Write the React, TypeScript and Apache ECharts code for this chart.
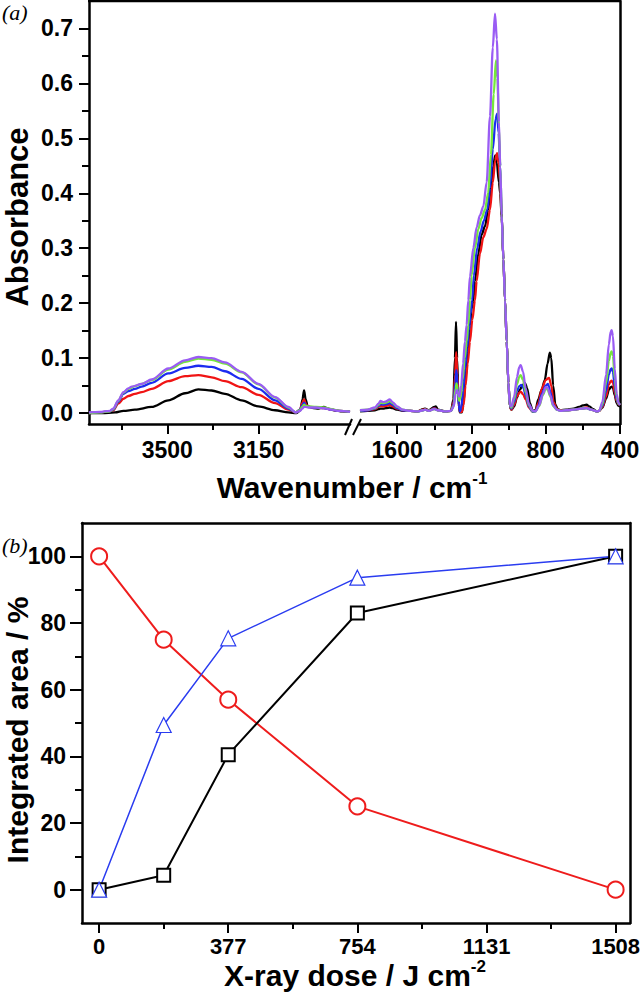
import React, { useEffect, useRef } from 'react';
import * as echarts from 'echarts';

// ---------- Panel (a) axis ticks ----------
const wnLowMajor = [3500, 3150];
const wnLowMinor = [3675, 3325, 2975];
const wnHighMajor = [1600, 1200, 800, 400];
const wnHighMinor = [1400, 1000, 600];
const absMajor = [0, 0.1, 0.2, 0.3, 0.4, 0.5, 0.6, 0.7];
const absMinor = [0.05, 0.15, 0.25, 0.35, 0.45, 0.55, 0.65];

// ---------- Panel (a) spectra, 3800-2800 cm-1 ----------
const blackLow: [number, number][] = [[3800,0],[3750,0],[3700,0.001],[3668,0.004],[3624,0.006],[3560,0.011],[3496,0.023],[3432,0.036],[3381,0.043],[3330,0.041],[3279,0.035],[3215,0.023],[3151,0.012],[3087,0.005],[3036,0.001],[3005,0],[2990,0.005],[2982,0.025],[2976,0.041],[2970,0.025],[2962,0.012],[2940,0.009],[2921,0.008],[2900,0.011],[2885,0.008],[2860,0.005],[2830,0.003],[2800,0.002]];
const redLow: [number, number][] = [[3800,0],[3760,0.001],[3720,0.003],[3707,0.005],[3688,0.017],[3668,0.026],[3649,0.031],[3624,0.035],[3598,0.038],[3560,0.044],[3496,0.058],[3432,0.067],[3381,0.069],[3330,0.065],[3279,0.058],[3215,0.047],[3151,0.033],[3087,0.018],[3036,0.006],[3008,0.001],[2992,0.006],[2983,0.018],[2976,0.025],[2969,0.016],[2960,0.011],[2930,0.01],[2900,0.009],[2870,0.006],[2840,0.004],[2800,0.002]];
const blueLow: [number, number][] = [[3800,0],[3760,0.001],[3720,0.003],[3707,0.006],[3688,0.02],[3668,0.035],[3649,0.04],[3624,0.044],[3598,0.048],[3560,0.055],[3496,0.072],[3432,0.082],[3381,0.086],[3330,0.084],[3279,0.076],[3215,0.062],[3151,0.044],[3087,0.023],[3036,0.008],[3008,0.001],[2992,0.006],[2983,0.014],[2976,0.019],[2969,0.013],[2960,0.011],[2930,0.01],[2900,0.009],[2870,0.006],[2840,0.004],[2800,0.002]];
const greenLow: [number, number][] = [[3800,0],[3760,0.001],[3720,0.003],[3707,0.007],[3688,0.022],[3668,0.037],[3649,0.044],[3624,0.049],[3598,0.053],[3560,0.06],[3496,0.079],[3432,0.093],[3381,0.099],[3330,0.097],[3279,0.09],[3215,0.074],[3151,0.052],[3087,0.028],[3036,0.01],[3008,0.001],[2992,0.005],[2983,0.011],[2976,0.015],[2969,0.013],[2960,0.012],[2930,0.011],[2900,0.01],[2870,0.007],[2840,0.004],[2800,0.002]];
const purpleLow: [number, number][] = [[3800,0.001],[3760,0.002],[3720,0.004],[3707,0.008],[3688,0.023],[3668,0.038],[3649,0.045],[3636,0.048],[3598,0.053],[3560,0.061],[3496,0.081],[3432,0.096],[3381,0.102],[3330,0.1],[3279,0.092],[3215,0.075],[3151,0.053],[3087,0.029],[3036,0.011],[3008,0.001],[2992,0.004],[2983,0.008],[2976,0.011],[2969,0.011],[2960,0.01],[2930,0.01],[2900,0.009],[2870,0.006],[2840,0.004],[2800,0.002]];

// ---------- Panel (a) spectra, 1800-400 cm-1 ----------
const blackHigh: [number, number][] = [[1800,0.003],[1760,0.004],[1720,0.005],[1700,0.007],[1690,0.008],[1675,0.008],[1660,0.009],[1640,0.01],[1625,0.009],[1600,0.006],[1570,0.004],[1530,0.004],[1490,0.003],[1460,0.007],[1450,0.008],[1430,0.005],[1400,0.011],[1392,0.012],[1380,0.006],[1340,0.003],[1310,0.004],[1297,0.025],[1289,0.1],[1283,0.166],[1277,0.1],[1270,0.025],[1263,0.001],[1252,0.001],[1242,0.02],[1232,0.06],[1221,0.11],[1208,0.16],[1199,0.19],[1190,0.205],[1181,0.24],[1163,0.29],[1145,0.325],[1127,0.34],[1110,0.37],[1095,0.41],[1082,0.45],[1072,0.469],[1063,0.455],[1052,0.42],[1045,0.4],[1037,0.355],[1028,0.28],[1019,0.205],[1010,0.13],[1001,0.055],[993,0.012],[985,0.006],[970,0.012],[955,0.028],[940,0.042],[925,0.05],[912,0.055],[900,0.045],[885,0.018],[870,0.004],[855,0.005],[840,0.025],[822,0.042],[805,0.06],[790,0.09],[778,0.11],[770,0.1],[760,0.05],[748,0.015],[735,0.007],[720,0.005],[690,0.006],[650,0.008],[620,0.011],[600,0.014],[580,0.015],[565,0.012],[545,0.007],[525,0.003],[512,0.004],[495,0.01],[475,0.026],[460,0.042],[450,0.047],[445,0.048],[438,0.046],[428,0.032],[418,0.018],[408,0.013],[400,0.012]];
const redHigh: [number, number][] = [[1800,0.004],[1760,0.005],[1720,0.007],[1700,0.011],[1690,0.013],[1675,0.012],[1660,0.013],[1640,0.015],[1625,0.012],[1600,0.008],[1570,0.005],[1530,0.004],[1490,0.003],[1460,0.006],[1450,0.007],[1430,0.004],[1400,0.009],[1380,0.005],[1340,0.003],[1310,0.004],[1296,0.02],[1288,0.07],[1282,0.111],[1276,0.07],[1269,0.02],[1262,0.002],[1252,0.002],[1242,0.015],[1232,0.05],[1220,0.09],[1208,0.13],[1195,0.17],[1181,0.205],[1172,0.24],[1154,0.29],[1136,0.32],[1118,0.335],[1100,0.37],[1085,0.42],[1072,0.46],[1062,0.473],[1054,0.455],[1045,0.42],[1037,0.36],[1028,0.28],[1019,0.205],[1010,0.13],[1001,0.055],[993,0.012],[985,0.006],[970,0.015],[955,0.03],[942,0.037],[935,0.039],[922,0.034],[908,0.025],[890,0.01],[870,0.002],[855,0.004],[840,0.018],[820,0.045],[800,0.06],[782,0.064],[770,0.05],[758,0.02],[740,0.007],[720,0.005],[690,0.005],[650,0.006],[610,0.008],[580,0.01],[555,0.006],[525,0.003],[512,0.004],[495,0.011],[475,0.03],[460,0.052],[450,0.058],[445,0.059],[438,0.055],[428,0.037],[418,0.022],[408,0.016],[400,0.014]];
const blueHigh: [number, number][] = [[1800,0.004],[1760,0.005],[1720,0.008],[1700,0.013],[1690,0.016],[1675,0.015],[1660,0.016],[1640,0.018],[1625,0.015],[1600,0.009],[1570,0.005],[1530,0.004],[1490,0.003],[1460,0.005],[1450,0.006],[1430,0.004],[1400,0.008],[1380,0.005],[1340,0.003],[1310,0.004],[1296,0.015],[1287,0.055],[1281,0.078],[1275,0.05],[1268,0.015],[1262,0.003],[1255,0.01],[1245,0.04],[1235,0.08],[1223,0.12],[1214,0.15],[1205,0.18],[1196,0.205],[1187,0.25],[1169,0.3],[1151,0.33],[1133,0.35],[1115,0.37],[1100,0.41],[1085,0.48],[1070,0.535],[1061,0.545],[1054,0.51],[1045,0.45],[1037,0.36],[1028,0.28],[1019,0.205],[1010,0.13],[1001,0.055],[993,0.012],[985,0.008],[970,0.02],[955,0.04],[942,0.049],[932,0.051],[920,0.046],[908,0.032],[890,0.012],[870,0.002],[855,0.003],[840,0.013],[820,0.035],[800,0.05],[788,0.053],[775,0.038],[760,0.015],[740,0.006],[720,0.004],[690,0.005],[650,0.006],[610,0.008],[580,0.009],[555,0.006],[525,0.003],[512,0.004],[495,0.013],[475,0.04],[460,0.07],[450,0.08],[445,0.081],[438,0.075],[428,0.048],[418,0.025],[408,0.016],[400,0.015]];
const greenHigh: [number, number][] = [[1800,0.005],[1760,0.006],[1720,0.009],[1700,0.015],[1690,0.019],[1675,0.018],[1660,0.019],[1640,0.022],[1625,0.018],[1600,0.011],[1570,0.006],[1530,0.004],[1490,0.003],[1460,0.005],[1450,0.006],[1430,0.004],[1400,0.007],[1380,0.005],[1340,0.003],[1310,0.004],[1295,0.014],[1285,0.045],[1280,0.054],[1274,0.04],[1266,0.022],[1258,0.03],[1248,0.06],[1236,0.1],[1226,0.13],[1217,0.16],[1208,0.205],[1199,0.25],[1181,0.3],[1163,0.335],[1145,0.355],[1127,0.37],[1110,0.4],[1095,0.47],[1080,0.58],[1068,0.642],[1060,0.61],[1052,0.52],[1045,0.45],[1037,0.36],[1028,0.28],[1019,0.205],[1010,0.13],[1001,0.055],[993,0.013],[985,0.01],[970,0.025],[955,0.052],[942,0.066],[935,0.069],[922,0.06],[908,0.038],[890,0.014],[870,0.003],[855,0.003],[835,0.013],[815,0.033],[800,0.044],[790,0.043],[775,0.03],[760,0.013],[740,0.006],[720,0.004],[690,0.005],[650,0.006],[610,0.008],[580,0.009],[555,0.006],[525,0.003],[512,0.004],[495,0.016],[475,0.055],[460,0.095],[450,0.11],[445,0.112],[438,0.104],[428,0.062],[418,0.03],[408,0.017],[400,0.015]];
const purpleHigh: [number, number][] = [[1800,0.005],[1760,0.006],[1720,0.01],[1700,0.017],[1690,0.022],[1675,0.02],[1660,0.021],[1640,0.025],[1625,0.02],[1600,0.012],[1570,0.006],[1530,0.004],[1490,0.003],[1460,0.005],[1450,0.006],[1430,0.004],[1400,0.007],[1380,0.005],[1340,0.003],[1310,0.004],[1295,0.012],[1285,0.035],[1279,0.042],[1272,0.035],[1265,0.03],[1255,0.05],[1245,0.09],[1235,0.13],[1226,0.16],[1217,0.205],[1208,0.248],[1190,0.3],[1172,0.338],[1154,0.36],[1136,0.376],[1118,0.42],[1100,0.54],[1085,0.665],[1073,0.727],[1063,0.68],[1052,0.53],[1045,0.45],[1037,0.36],[1028,0.28],[1019,0.205],[1010,0.13],[1001,0.055],[993,0.014],[985,0.012],[970,0.03],[955,0.065],[942,0.084],[935,0.087],[922,0.075],[908,0.045],[890,0.016],[870,0.004],[855,0.003],[835,0.014],[815,0.035],[800,0.047],[790,0.046],[775,0.032],[760,0.014],[740,0.006],[720,0.004],[690,0.005],[650,0.006],[610,0.008],[580,0.009],[555,0.006],[525,0.003],[512,0.004],[495,0.02],[475,0.07],[460,0.125],[450,0.148],[445,0.151],[438,0.14],[428,0.08],[418,0.035],[408,0.018],[400,0.015]];

// ---------- Panel (b) ----------
const doseMajor = [0, 377, 754, 1131, 1508];
const doseMinor = [188.5, 565.5, 942.5, 1319.5];
const areaMajor = [0, 20, 40, 60, 80, 100];
const areaMinor = [10, 30, 50, 70, 90];
const dose = [0, 188.5, 377, 754, 1508];
const circleArea = [100, 75, 57, 25, 0];
const squareArea = [0, 4.3, 40.5, 83, 100];
const triangleArea = [0, 49.4, 75.4, 93.6, 100];

const C = {
  black: '#000000',
  red: '#f01414',
  blue: '#1c2cf0',
  green: '#74e83a',
  purple: '#9a5cf4',
};

const FONT = '"Liberation Sans", Arial, sans-serif';
const tickLabel = { fontFamily: FONT, fontWeight: 'bold' as const, fontSize: 23, color: '#000' };

// layout
const A = { top: 1, height: 423, lLeft: 89, lWidth: 261, rLeft: 360, rWidth: 260 };
const B = { left: 82, top: 523, width: 548, height: 400 };

function App() {
  const ref = useRef<HTMLDivElement>(null);
  useEffect(() => {
    document.body.style.margin = '0';
    if (!ref.current) return;
    const chart = echarts.init(ref.current, undefined, { renderer: 'svg' });
    const axisLine = { show: true, onZero: false, lineStyle: { color: '#000', width: 2.5 } };
    const noLine = { show: false, onZero: false };
    const plain = (v: number) => String(v);

    const xMain = (gridIndex: number, min: number, max: number, inverse: boolean, major: number[], margin: number, fs: number) => ({
      type: 'value', gridIndex, min, max, inverse, position: 'bottom',
      axisLine,
      axisTick: { show: true, inside: false, length: 10, customValues: major, lineStyle: { color: '#000', width: 2 } },
      axisLabel: { show: true, customValues: major, margin, formatter: plain, ...tickLabel, fontSize: fs, showMinLabel: true, showMaxLabel: true },
      splitLine: { show: false },
    });
    const xMinor = (gridIndex: number, min: number, max: number, inverse: boolean, minor: number[]) => ({
      type: 'value', gridIndex, min, max, inverse, position: 'bottom',
      axisLine: noLine,
      axisTick: { show: true, inside: false, length: 6, customValues: minor, lineStyle: { color: '#000', width: 2 } },
      axisLabel: { show: false },
      splitLine: { show: false },
    });
    const yMain = (gridIndex: number, min: number, max: number, major: number[], fmt: (v: number) => string, len: number) => ({
      type: 'value', gridIndex, min, max, position: 'left',
      axisLine,
      axisTick: { show: true, inside: false, length: len, customValues: major, lineStyle: { color: '#000', width: 2 } },
      axisLabel: { show: true, customValues: major, margin: 16, formatter: fmt, ...tickLabel },
      splitLine: { show: false },
    });
    const yMinor = (gridIndex: number, min: number, max: number, minor: number[]) => ({
      type: 'value', gridIndex, min, max, position: 'left',
      axisLine: noLine,
      axisTick: { show: true, inside: false, length: 7, customValues: minor, lineStyle: { color: '#000', width: 2 } },
      axisLabel: { show: false },
      splitLine: { show: false },
    });
    const border = (gridIndex: number, min: number, max: number, position: string) => ({
      type: 'value', gridIndex, min, max, position,
      axisLine, axisTick: { show: false }, axisLabel: { show: false }, splitLine: { show: false },
    });

    const spec = (name: string, color: string, data: [number, number][], xi: number, yi: number) => ({
      type: 'line', name, data, xAxisIndex: xi, yAxisIndex: yi,
      showSymbol: false, symbol: 'none', smooth: 0.3, smoothMonotone: 'x',
      lineStyle: { color, width: 2.3 }, itemStyle: { color }, clip: true, silent: true,
    });

    const marker = (name: string, color: string, data: number[], symbol: string, size: number, bw: number, lw: number) => ({
      type: 'line', name, xAxisIndex: 4, yAxisIndex: 3,
      data: dose.map((d, i) => [d, data[i]]),
      symbol, symbolSize: size, showSymbol: true,
      lineStyle: { color, width: lw },
      itemStyle: { color: '#ffffff', borderColor: color, borderWidth: bw },
      silent: true,
    });

    const option: any = {
      animation: false,
      grid: [
        { left: A.lLeft, top: A.top, width: A.lWidth, height: A.height, containLabel: false, outerBoundsMode: 'none' },
        { left: A.rLeft, top: A.top, width: A.rWidth, height: A.height, containLabel: false, outerBoundsMode: 'none' },
        { left: B.left, top: B.top, width: B.width, height: B.height, containLabel: false, outerBoundsMode: 'none' },
      ],
      xAxis: [
        xMain(0, 2800, 3800, true, wnLowMajor, 14, 23),
        xMinor(0, 2800, 3800, true, wnLowMinor),
        xMain(1, 400, 1800, true, wnHighMajor, 14, 23),
        xMinor(1, 400, 1800, true, wnHighMinor),
        xMain(2, -50, 1550, false, doseMajor, 12, 22),
        xMinor(2, -50, 1550, false, doseMinor),
        border(2, -50, 1550, 'top'),
      ],
      yAxis: [
        yMain(0, -0.02, 0.75, absMajor, (v: number) => v.toFixed(1), 10),
        yMinor(0, -0.02, 0.75, absMinor),
        border(1, -0.02, 0.75, 'right'),
        yMain(2, -10, 110, areaMajor, plain, 12),
        yMinor(2, -10, 110, areaMinor),
        border(2, -10, 110, 'right'),
      ],
      series: [
        spec('black-l', C.black, blackLow, 0, 0),
        spec('red-l', C.red, redLow, 0, 0),
        spec('blue-l', C.blue, blueLow, 0, 0),
        spec('green-l', C.green, greenLow, 0, 0),
        spec('purple-l', C.purple, purpleLow, 0, 0),
        spec('black-h', C.black, blackHigh, 2, 2),
        spec('red-h', C.red, redHigh, 2, 2),
        spec('blue-h', C.blue, blueHigh, 2, 2),
        spec('green-h', C.green, greenHigh, 2, 2),
        spec('purple-h', C.purple, purpleHigh, 2, 2),
        marker('circle', '#ee1c1c', circleArea, 'circle', 16, 2, 2),
        marker('square', '#000000', squareArea, 'rect', 13, 2, 2),
        marker('triangle', '#2a3cf0', triangleArea, 'triangle', 15, 1.2, 1.5),
      ],
      graphic: [
        { type: 'line', z: 10, shape: { x1: A.lLeft - 1, y1: A.top, x2: A.rLeft + A.rWidth + 1, y2: A.top }, style: { stroke: '#000', lineWidth: 2.5 } },
        { type: 'line', z: 10, shape: { x1: 345, y1: 435, x2: 352, y2: 419 }, style: { stroke: '#000', lineWidth: 2 } },
        { type: 'line', z: 10, shape: { x1: 353, y1: 435, x2: 361, y2: 419 }, style: { stroke: '#000', lineWidth: 2 } },
        { type: 'text', x: 2, y: 1, style: { text: '(a)', font: 'italic 22px "Liberation Serif", serif', fill: '#000' } },
        { type: 'text', x: 2, y: 534, style: { text: '(b)', font: 'italic 22px "Liberation Serif", serif', fill: '#000' } },
        { type: 'text', x: 17, y: 217, rotation: Math.PI / 2,
          style: { text: 'Absorbance', font: `bold 31px ${FONT}`, fill: '#000', align: 'center', verticalAlign: 'middle' } },
        { type: 'text', x: 17, y: 730, rotation: Math.PI / 2,
          style: { text: 'Integrated area / %', font: `bold 30px ${FONT}`, fill: '#000', align: 'center', verticalAlign: 'middle' } },
        { type: 'text', x: 352, y: 487,
          style: { text: '{t|Wavenumber / cm}{s|-1}', align: 'center', verticalAlign: 'middle',
            rich: { t: { font: `bold 30px ${FONT}`, fill: '#000', lineHeight: 34 }, s: { font: `bold 17px ${FONT}`, fill: '#000', verticalAlign: 'top', lineHeight: 34 } } } },
        { type: 'text', x: 355, y: 975,
          style: { text: '{t|X-ray dose / J cm}{s|-2}', align: 'center', verticalAlign: 'middle',
            rich: { t: { font: `bold 30px ${FONT}`, fill: '#000', lineHeight: 34 }, s: { font: `bold 17px ${FONT}`, fill: '#000', verticalAlign: 'top', lineHeight: 34 } } } },
      ],
    };
    chart.setOption(option);
    return () => chart.dispose();
  }, []);
  return <div ref={ref} style={{ width: 640, height: 1007 }} />;
}

export default App;
